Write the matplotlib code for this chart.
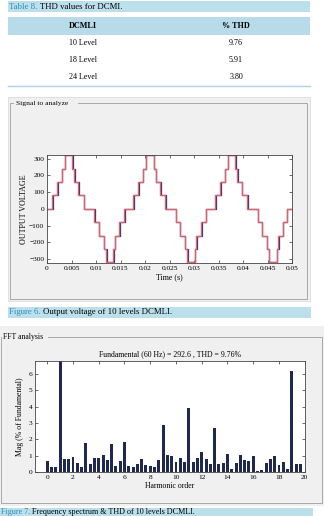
import numpy as np
import matplotlib
matplotlib.use("Agg")
import matplotlib.pyplot as plt
from matplotlib.patches import Rectangle
from matplotlib.transforms import ScaledTranslation

plt.rcParams['font.family'] = ['Liberation Serif', 'DejaVu Serif']
plt.rcParams['axes.unicode_minus'] = True

# ---------------- data ----------------
table_cols = ['DCMLI', '% THD']
table_levels = ['10 Level', '18 Level', '24 Level']
table_thd = ['9.76', '5.91', '3.80']

# step edges of the output voltage (time in ms, level after the edge)
edge_t_ms = [0.0, 1.05, 2.10, 3.00, 3.65, 5.15, 5.55, 6.40, 7.50,
             9.65, 10.55, 11.55, 12.05, 13.55, 13.85, 14.75, 15.75,
             17.60, 18.65, 19.55, 20.15, 21.75, 22.20, 23.10, 24.15,
             26.30, 27.05, 28.10, 28.60, 30.15, 30.45, 31.45, 32.35,
             34.30, 35.35, 36.25, 36.90, 38.45, 38.85, 39.75, 40.85,
             43.00, 43.85, 44.90, 45.30, 46.85, 47.15, 48.10, 48.95, 50.0]
edge_v = [0, 80, 160, 240, 320, 240, 160, 80, 0,
          -80, -160, -240, -320, -240, -160, -80, 0,
          80, 160, 240, 320, 240, 160, 80, 0,
          -80, -160, -240, -320, -240, -160, -80, 0,
          80, 160, 240, 320, 240, 160, 80, 0,
          -80, -160, -240, -320, -240, -160, -80, 0, 0]

harmonic = [0, 0.333, 0.667, 1, 1.333, 1.667, 2, 2.333, 2.667, 3,
            3.333, 3.667, 4, 4.333, 4.667, 5, 5.333, 5.667, 6, 6.333,
            6.667, 7, 7.333, 7.667, 8, 8.333, 8.667, 9, 9.333, 9.667,
            10, 10.333, 10.667, 11, 11.333, 11.667, 12, 12.333, 12.667, 13,
            13.333, 13.667, 14, 14.333, 14.667, 15, 15.333, 15.667, 16, 16.333,
            16.667, 17, 17.333, 17.667, 18, 18.333, 18.667, 19, 19.333, 19.667]
mag = [0.69, 0.28, 0.30, 100.0, 0.81, 0.77, 0.92, 0.57, 0.28, 1.75,
       0.51, 0.85, 0.87, 1.02, 0.73, 1.71, 0.39, 0.69, 1.83, 0.39,
       0.28, 0.51, 0.77, 0.45, 0.35, 0.31, 0.73, 2.89, 1.02, 1.00,
       0.63, 0.83, 0.59, 3.90, 0.59, 0.87, 1.22, 0.81, 0.47, 2.68,
       0.47, 0.53, 1.12, 0.18, 0.53, 1.02, 0.73, 0.67, 0.96, 0.06,
       0.12, 0.57, 0.77, 0.96, 0.45, 0.63, 0.18, 6.20, 0.49, 0.49]

W, H = 324, 516
fig = plt.figure(figsize=(W / 100, H / 100), dpi=100)

def box(l, t, r, b):
    return [l / W, 1 - b / H, (r - l) / W, (b - t) / H]

# background canvas in pixel coordinates
bg = fig.add_axes([0, 0, 1, 1], zorder=0)
bg.set_xlim(0, W)
bg.set_ylim(H, 0)
bg.axis('off')

cap_blue = '#bcdfec'
txt_blue = '#2c8bbb'
panel_gray = '#f0f0f0'
frame_gray = '#a8a8a8'

def caption(y0, y1, x_txt, y_txt, head, rest, x0=8, x1=310, fs=6.3):
    bg.add_patch(Rectangle((x0, y0), x1 - x0, y1 - y0, color=cap_blue, lw=0))
    t1 = bg.text(x_txt, y_txt, head, color=txt_blue, fontsize=fs,
                 va='center', ha='left')
    bg.annotate(rest, xy=(1, 0), xycoords=t1, va='bottom', ha='left',
                fontsize=fs, color='black')

# table 8
caption(1, 12, 9, 7, 'Table 8. ', 'THD values for DCMI.')
bg.add_patch(Rectangle((8, 17), 302, 18, color='#b7dbe9', lw=0))
bg.text(83, 26.5, table_cols[0], fontsize=5.9, weight='bold', ha='center', va='center')
bg.text(236, 26.5, table_cols[1], fontsize=5.9, weight='bold', ha='center', va='center')
for i, (lv, th) in enumerate(zip(table_levels, table_thd)):
    yy = 43 + i * 17
    bg.text(83, yy, lv, fontsize=5.8, ha='center', va='center')
    bg.text(236, yy, th, fontsize=5.8, ha='center', va='center')
bg.plot([8, 310], [86, 86], color='#a9d3e3', lw=1.0)

# signal panel
bg.add_patch(Rectangle((8, 97), 302, 204, facecolor=panel_gray, edgecolor='#dcdcdc', lw=0.6))
bg.plot([78, 307, 307, 10, 10, 13], [103, 103, 299, 299, 103, 103], color=frame_gray, lw=0.7)
bg.text(16, 103, 'Signal to analyze', fontsize=5.4, va='center', ha='left')

caption(306.5, 318, 9, 312.5, 'Figure 6. ', 'Output voltage of 10 levels DCMLI.', x1=311)

# FFT panel
bg.add_patch(Rectangle((0, 326), 324, 180, facecolor=panel_gray, edgecolor='none'))
bg.plot([48, 322, 322, 0.6, 0.6], [337, 337, 503, 503, 337], color=frame_gray, lw=0.7)
bg.text(3, 337, 'FFT analysis', fontsize=5.6, va='center', ha='left',
        bbox=dict(facecolor=panel_gray, edgecolor='none', pad=0.3))

caption(508, 524, 1, 512.5, 'Figure 7. ', 'Frequency spectrum & THD of 10 levels DCMLI.',
        x0=0, x1=313, fs=5.9)

# ---------------- output voltage ----------------
ax1 = fig.add_axes(box(47, 155, 292, 263), zorder=2)
t_s = np.array(edge_t_ms) / 1000.0
shift = ScaledTranslation(0.35 / 72, 0, fig.dpi_scale_trans)
ax1.step(t_s, edge_v, where='post', color='#2b2f7d', lw=0.9,
         transform=ax1.transData + shift)
ax1.step(t_s, edge_v, where='post', color='#d9646e', lw=1.0)
ax1.set_xlim(0, 0.05)
ax1.set_ylim(-324, 322)
ax1.set_xticks(np.arange(0, 0.0501, 0.005))
ax1.set_xticklabels(['0', '0.005', '0.01', '0.015', '0.02', '0.025', '0.03',
                     '0.035', '0.04', '0.045', '0.05'])
ax1.set_yticks([-300, -200, -100, 0, 100, 200, 300])
ax1.set_xlabel('Time (s)', fontsize=5.8, labelpad=2)
ax1.set_ylabel('OUTPUT VOLTAGE', fontsize=5.8, labelpad=1)

# ---------------- FFT ----------------
ax2 = fig.add_axes(box(35, 361, 305, 472), zorder=2)
ax2.bar(harmonic, mag, width=0.23, color='#1f2850', edgecolor='none')
ax2.set_xlim(-0.95, 20.02)
ax2.set_ylim(0, 6.8)
ax2.set_xticks(range(0, 21, 2))
ax2.set_yticks(range(0, 7))
ax2.set_xlabel('Harmonic order', fontsize=5.6, labelpad=1.5)
ax2.set_ylabel('Mag (% of Fundamental)', fontsize=5.6, labelpad=3)
ax2.set_title('Fundamental (60 Hz) = 292.6 , THD = 9.76%', fontsize=5.6, pad=3.5)

for ax in (ax1, ax2):
    ax.set_facecolor('white')
    ax.tick_params(direction='in', top=True, right=True, length=2.2, width=0.5,
                   labelsize=5.3, pad=2, colors='#333333', labelcolor='black')
    for s in ax.spines.values():
        s.set_linewidth(0.6)
        s.set_color('#444444')

fig.savefig('out.png', dpi=100)
